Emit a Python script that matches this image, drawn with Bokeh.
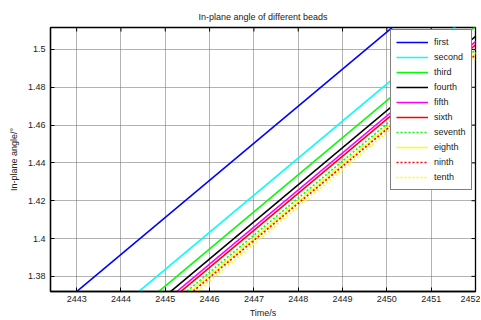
import math
from bokeh.plotting import figure
from bokeh.models import Range1d, FixedTicker, Legend, LegendItem
from bokeh.embed import file_html
from bokeh.resources import INLINE

# --- data: time at which each bead reaches the two angle levels
angle_levels = [1.36, 1.52]
series_names = ["first", "second", "third", "fourth", "fifth",
                "sixth", "seventh", "eighth", "ninth", "tenth"]
t_first = [2442.39, 2450.55]
t_second = [2443.79, 2451.95]
t_third = [2444.24, 2452.40]
t_fourth = [2444.51, 2452.67]
t_fifth = [2444.65, 2452.81]
t_sixth = [2444.74, 2452.90]
t_seventh = [2444.87, 2453.03]
t_eighth = [2444.96, 2453.12]
t_ninth = [2445.01, 2453.17]
t_tenth = [2445.10, 2453.26]
series_times = [t_first, t_second, t_third, t_fourth, t_fifth,
                t_sixth, t_seventh, t_eighth, t_ninth, t_tenth]
series_colors = ["#0000ff", "#00ffff", "#00ff00", "#000000", "#ff00ff",
                 "#ff0000", "#00ff00", "#ffff00", "#ff0000", "#ffff00"]
series_dash = ["solid", "solid", "solid", "solid", "solid",
               "solid", "dotted", "solid", "dotted", "dotted"]

x_ticks = [2443, 2444, 2445, 2446, 2447, 2448, 2449, 2450, 2451, 2452]
y_ticks = [1.38, 1.40, 1.42, 1.44, 1.46, 1.48, 1.50]
y_tick_labels = ["1.38", "1.4", "1.42", "1.44", "1.46", "1.48", "1.5"]

X_MIN, X_MAX = 2442.41, 2452.0
Y_MIN, Y_MAX = 1.372, 1.5116

FONT = "Liberation Sans"

p = figure(frame_width=425, frame_height=264, output_backend="svg", toolbar_location=None,
           x_range=Range1d(X_MIN, X_MAX), y_range=Range1d(Y_MIN, Y_MAX),
           title="In-plane angle of different beads",
           min_border_left=50, min_border_right=5, min_border_top=27, min_border_bottom=28)
p.background_fill_color = "white"
p.border_fill_color = "white"
p.outline_line_color = "black"
p.outline_line_width = 1.3

p.title.align = "center"
p.title.vertical_align = "middle"
p.title.text_font = FONT
p.title.text_font_size = "9px"
p.title.text_font_style = "normal"
p.title.text_color = "#222222"
p.title.standoff = 10

def style_axis(ax):
    ax.major_tick_in = 4
    ax.major_tick_out = 0
    ax.minor_tick_in = 0
    ax.minor_tick_out = 0
    ax.axis_line_color = "black"
    ax.axis_line_width = 1.3
    ax.major_tick_line_color = "black"
    ax.major_label_text_font = FONT
    ax.major_label_text_font_size = "9px"
    ax.major_label_text_color = "#222222"
    ax.axis_label_text_font = FONT
    ax.axis_label_text_font_size = "9px"
    ax.axis_label_text_font_style = "normal"
    ax.axis_label_text_color = "#222222"

xaxis = p.xaxis[0]
yaxis = p.yaxis[0]
xaxis.ticker = FixedTicker(ticks=x_ticks)
yaxis.ticker = FixedTicker(ticks=y_ticks)
yaxis.major_label_overrides = {v: s for v, s in zip(y_ticks, y_tick_labels)}
xaxis.axis_label = "Time/s"
yaxis.axis_label = "In-plane angle/\u00b0"
style_axis(xaxis)
style_axis(yaxis)
xaxis.major_label_standoff = 4
xaxis.axis_label_standoff = 3
yaxis.major_label_standoff = 5
yaxis.axis_label_standoff = 6

# MATLAB-style inward ticks on the top and right edges of the box
p.ray(x=x_ticks, y=[Y_MAX] * len(x_ticks), length=4, length_units="screen",
      angle=-math.pi / 2, line_color="black", line_width=1)
p.ray(x=[X_MAX] * len(y_ticks), y=y_ticks, length=4, length_units="screen",
      angle=math.pi, line_color="black", line_width=1)

p.xgrid.ticker = FixedTicker(ticks=x_ticks)
p.ygrid.ticker = FixedTicker(ticks=y_ticks)
for g in (p.xgrid, p.ygrid):
    g.grid_line_color = "#666666"
    g.grid_line_dash = "1 1"
    g.grid_line_width = 1

items = []
for name, ts, col, dash in zip(series_names, series_times, series_colors, series_dash):
    r = p.line(ts, angle_levels, line_color=col, line_width=1.6,
               line_dash=("2 2" if dash == "dotted" else "solid"))
    items.append(LegendItem(label=name, renderers=[r]))

legend = Legend(items=items, location=(340, 101))
legend.border_line_color = "black"
legend.border_line_width = 1.3
legend.background_fill_color = "white"
legend.background_fill_alpha = 1
legend.label_text_font = FONT
legend.label_text_font_size = "9px"
legend.label_text_color = "#222222"
legend.glyph_width = 32
legend.glyph_height = 14
legend.label_height = 14
legend.spacing = 1
legend.padding = 5
legend.margin = 0
legend.label_standoff = 6
legend.label_text_baseline = "middle"
p.add_layout(legend, "center")

open("out.html", "w").write(file_html(p, INLINE))
